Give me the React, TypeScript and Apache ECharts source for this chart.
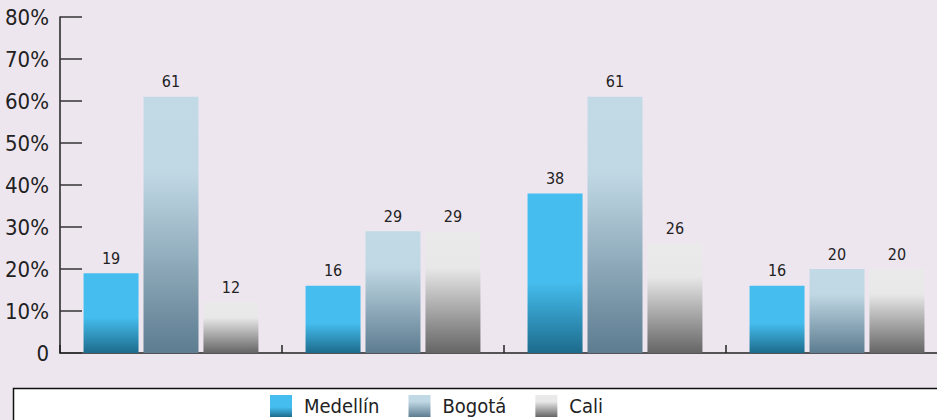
import React, { useEffect, useRef } from "react";
import * as echarts from "echarts";

const categories = ["A", "B", "C", "D"];
const medellin = [19, 16, 38, 16];
const bogota = [61, 29, 61, 20];
const cali = [12, 29, 26, 20];
const yTicks = [0, 10, 20, 30, 40, 50, 60, 70, 80];

const FONT = "'Liberation Sans Narrow', 'DejaVu Sans Condensed', 'Roboto Condensed', sans-serif";

const grad = (stops: [number, string][]) =>
  new echarts.graphic.LinearGradient(0, 0, 0, 1, stops.map(([offset, color]) => ({ offset, color })));

export default function App() {
  const ref = useRef<HTMLDivElement>(null);
  useEffect(() => {
    const chart = echarts.init(ref.current!, null, { renderer: "svg" });
    const label = {
      show: true,
      position: "top" as const,
      distance: 7,
      fontFamily: FONT,
      fontSize: 16,
      color: "#222",
    };
    chart.setOption({
      animation: false,
      backgroundColor: "#EEE6EF",
      graphic: [
        {
          type: "rect",
          shape: { x: 13.5, y: 388.5, width: 960, height: 60 },
          style: { fill: "#ffffff", stroke: "#111", lineWidth: 1.5 },
          z: 0,
        },
      ],
      legend: {
        left: 270,
        top: 395,
        padding: 0,
        itemWidth: 22,
        itemHeight: 22,
        itemGap: 29,
        icon: "rect",
        textStyle: { fontFamily: FONT, fontSize: 20, color: "#222", padding: [0, 0, 0, 7] },
        data: ["Medellín", "Bogotá", "Cali"],
        z: 5,
      },
      grid: { left: 60, right: 2, top: 17, bottom: 67, containLabel: false },
      xAxis: {
        type: "category",
        data: categories,
        axisLine: { lineStyle: { color: "#222", width: 1.5 } },
        axisTick: { show: true, inside: true, length: 8, lineStyle: { color: "#222", width: 1.5 } },
        axisLabel: { show: false },
      },
      yAxis: {
        type: "value",
        min: 0,
        max: 80,
        interval: 10,
        axisLine: { show: true, lineStyle: { color: "#222", width: 1.5 } },
        axisTick: { show: true, inside: true, length: 22, lineStyle: { color: "#333", width: 1.5 } },
        splitLine: { show: false },
        axisLabel: {
          fontFamily: FONT,
          fontSize: 22,
          color: "#222",
          margin: 11,
          formatter: (v: number) => (yTicks.includes(v) ? (v === 0 ? "0" : v + "%") : ""),
        },
      },
      series: [
        {
          name: "Medellín",
          type: "bar",
          data: medellin,
          barWidth: 55,
          barGap: "9%",
          label,
          itemStyle: {
            color: grad([
              [0, "#45BEEF"],
              [0.55, "#45BEEF"],
              [1, "#1D6B8C"],
            ]),
          },
        },
        {
          name: "Bogotá",
          type: "bar",
          data: bogota,
          barWidth: 55,
          barGap: "9%",
          label,
          itemStyle: {
            color: grad([
              [0, "#C2DAE6"],
              [0.3, "#C0D8E4"],
              [1, "#5D7C90"],
            ]),
          },
        },
        {
          name: "Cali",
          type: "bar",
          data: cali,
          barWidth: 55,
          barGap: "9%",
          label,
          itemStyle: {
            color: grad([
              [0, "#EAEAEA"],
              [0.3, "#E8E8E8"],
              [1, "#656565"],
            ]),
          },
        },
      ],
    });
    return () => chart.dispose();
  }, []);
  return (
    <div
      style={{ position: "absolute", left: 0, top: 0, width: 937, height: 420, overflow: "hidden" }}
    >
      <div ref={ref} style={{ width: 950, height: 420 }} />
    </div>
  );
}
